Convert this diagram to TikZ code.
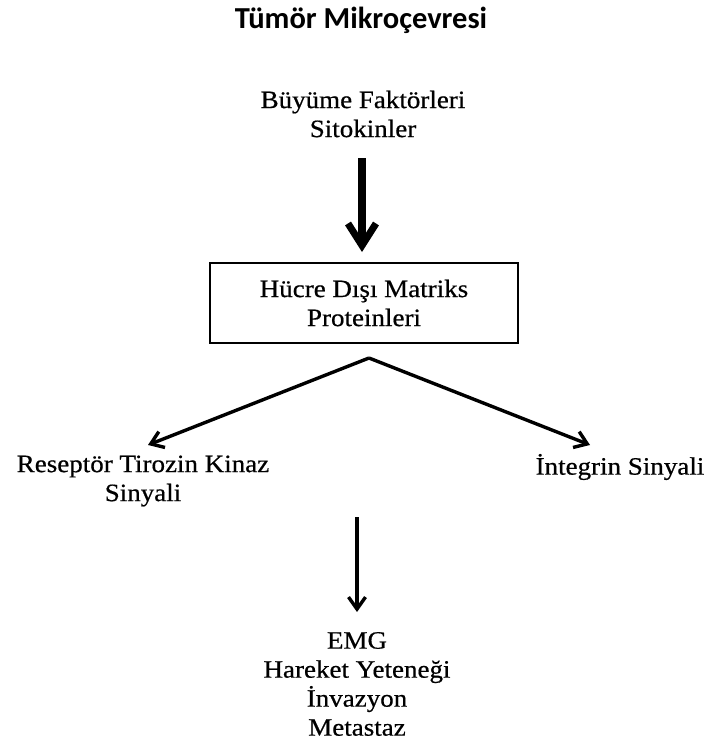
\documentclass[tikz,border=0pt]{standalone}
\usepackage{fontspec}
\setmainfont{Liberation Serif}[FakeStretch=1.08,FakeBold=0.6]
\newfontfamily\titlefont{Carlito}
\usetikzlibrary{arrows.meta,positioning}

\begin{document}
\begin{tikzpicture}[x=1pt,y=-1pt,
    lbl/.style={align=center,inner sep=0pt,font=\fontsize{25}{29}\selectfont},
    flow/.style={line width=3.4pt,-{Straight Barb[length=12pt,width=17pt,line width=3.4pt]}},
    bigflow/.style={line width=8pt,-{Straight Barb[length=22pt,width=28pt,line width=7pt]}}]
\useasboundingbox (0,0) rectangle (718,749);

\node (title) at (361,20) {\titlefont\bfseries\fontsize{30.5}{34}\selectfont Tümör Mikroçevresi};
\node[lbl] (gf) at (363,114) {Büyüme Faktörleri\\Sitokinler};
\node[lbl,draw,line width=1.6pt,minimum width=308pt,minimum height=80pt] (ecm) at (364,303) {Hücre Dışı Matriks\\Proteinleri};
\coordinate (split) at (369,358);
\node[lbl] (rtk) at (143,481) {Reseptör Tirozin Kinaz\\Sinyali};
\node[lbl] (itg) at (620,467) {İntegrin Sinyali};
\node[lbl] (emg) at (357,684) {EMG\\Hareket Yeteneği\\İnvazyon\\Metastaz};

\draw[bigflow] (362,158) -- (362,252);
\draw[flow] (split) -- (148,445);
\draw[flow] (split) -- (590,445);
\draw[flow] (357,517) -- (357,612);
\end{tikzpicture}
\end{document}
